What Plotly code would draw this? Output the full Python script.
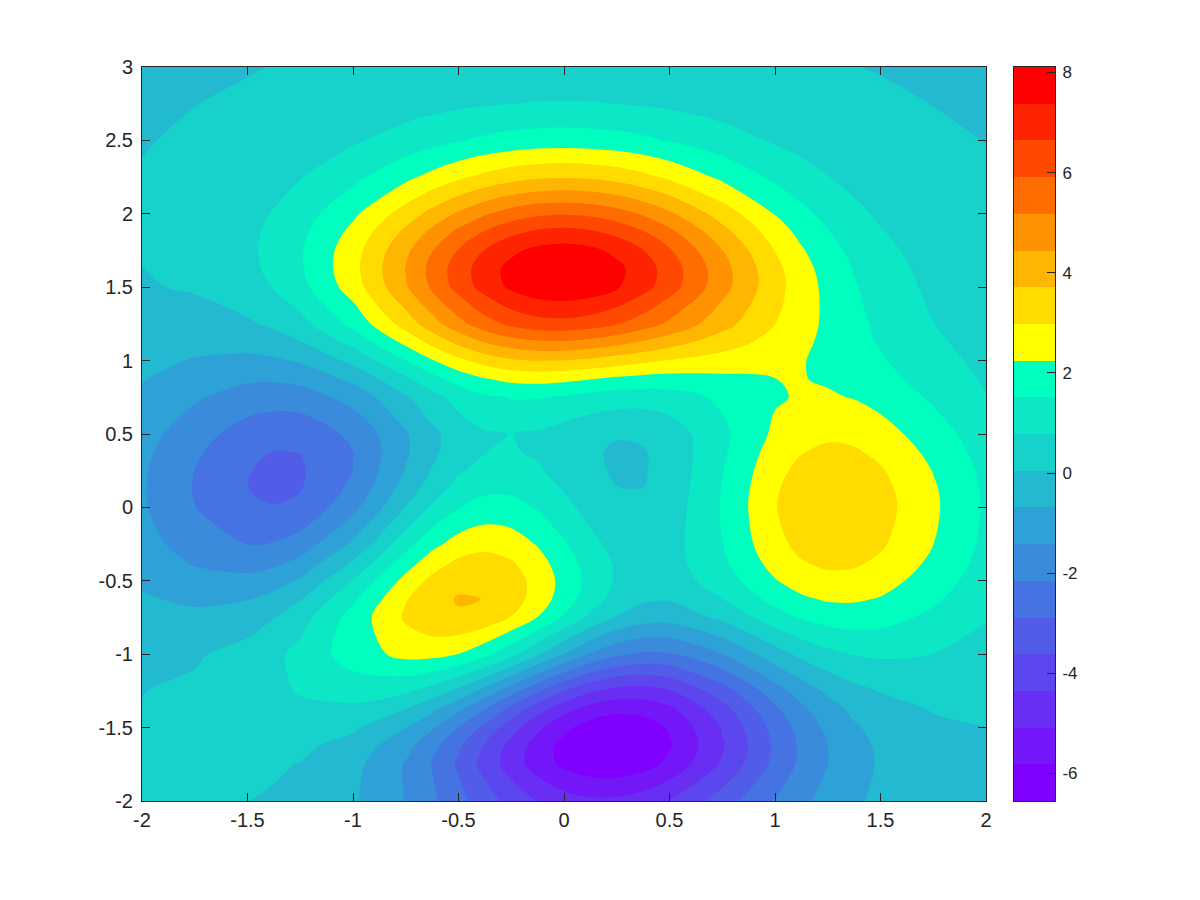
import plotly.graph_objects as go

X_VALUES = [-2, -1.75, -1.5, -1.375, -1.25, -1, -0.75, -0.625, -0.5, -0.375, -0.25, -0.125, 0, 0.125, 0.25, 0.375, 0.5, 0.75, 1, 1.125, 1.25, 1.375, 1.5, 1.75, 2]
Y_VALUES = [3, 2.75, 2.5, 2.25, 2, 1.875, 1.75, 1.625, 1.5, 1.25, 1.125, 1, 0.875, 0.75, 0.5, 0.375, 0.25, 0.125, 0, -0.25, -0.375, -0.5, -0.625, -0.75, -1, -1.25, -1.375, -1.5, -1.625, -1.75, -2]

# values estimated from the filled bands, one row per y value
Z_VALUES = [
    [0.01, 0.01, 0.03, 0.05, 0.06, 0.11, 0.17, 0.20, 0.23, 0.26, 0.28, 0.30, 0.30, 0.30, 0.28, 0.26, 0.23, 0.17, 0.11, 0.08, 0.06, 0.05, 0.03, 0.01, 0.01],
    [0.01, 0.04, 0.08, 0.12, 0.17, 0.30, 0.47, 0.55, 0.64, 0.71, 0.77, 0.81, 0.82, 0.81, 0.77, 0.71, 0.64, 0.47, 0.30, 0.23, 0.17, 0.12, 0.09, 0.04, 0.02],
    [0.03, 0.08, 0.19, 0.28, 0.39, 0.69, 1.07, 1.27, 1.47, 1.64, 1.77, 1.86, 1.88, 1.85, 1.77, 1.64, 1.47, 1.08, 0.70, 0.54, 0.40, 0.29, 0.20, 0.09, 0.04],
    [0.06, 0.16, 0.36, 0.53, 0.74, 1.32, 2.07, 2.46, 2.84, 3.17, 3.43, 3.59, 3.65, 3.59, 3.43, 3.17, 2.84, 2.09, 1.36, 1.05, 0.79, 0.57, 0.40, 0.19, 0.08],
    [0.08, 0.23, 0.55, 0.82, 1.16, 2.10, 3.31, 3.95, 4.56, 5.09, 5.51, 5.77, 5.86, 5.76, 5.50, 5.09, 4.57, 3.37, 2.21, 1.71, 1.30, 0.95, 0.67, 0.32, 0.13],
    [0.08, 0.25, 0.62, 0.93, 1.33, 2.44, 3.87, 4.63, 5.35, 5.98, 6.47, 6.78, 6.88, 6.76, 6.45, 5.97, 5.37, 3.97, 2.62, 2.04, 1.55, 1.14, 0.82, 0.39, 0.17],
    [0.07, 0.24, 0.64, 0.98, 1.43, 2.68, 4.29, 5.15, 5.96, 6.68, 7.22, 7.57, 7.68, 7.55, 7.20, 6.66, 5.99, 4.45, 2.96, 2.32, 1.78, 1.32, 0.96, 0.47, 0.21],
    [0.04, 0.20, 0.60, 0.95, 1.42, 2.74, 4.48, 5.40, 6.27, 7.03, 7.60, 7.96, 8.07, 7.93, 7.56, 7.01, 6.31, 4.72, 3.18, 2.52, 1.95, 1.47, 1.08, 0.55, 0.25],
    [-0.01, 0.11, 0.47, 0.81, 1.27, 2.60, 4.36, 5.29, 6.17, 6.93, 7.51, 7.86, 7.96, 7.82, 7.45, 6.90, 6.23, 4.70, 3.24, 2.60, 2.05, 1.57, 1.18, 0.62, 0.29],
    [-0.20, -0.23, -0.05, 0.19, 0.55, 1.70, 3.30, 4.14, 4.93, 5.59, 6.08, 6.35, 6.40, 6.26, 5.95, 5.53, 5.03, 3.98, 2.98, 2.52, 2.10, 1.71, 1.35, 0.79, 0.41],
    [-0.33, -0.47, -0.43, -0.28, 0.01, 0.99, 2.43, 3.19, 3.89, 4.46, 4.86, 5.06, 5.08, 4.94, 4.68, 4.36, 4.01, 3.33, 2.70, 2.39, 2.08, 1.76, 1.45, 0.90, 0.49],
    [-0.48, -0.74, -0.86, -0.80, -0.60, 0.23, 1.51, 2.19, 2.80, 3.28, 3.59, 3.72, 3.69, 3.55, 3.34, 3.13, 2.94, 2.66, 2.44, 2.28, 2.09, 1.85, 1.58, 1.04, 0.58],
    [-0.65, -1.03, -1.31, -1.33, -1.21, -0.52, 0.65, 1.26, 1.80, 2.20, 2.43, 2.49, 2.42, 2.27, 2.10, 1.99, 1.95, 2.08, 2.24, 2.27, 2.17, 1.99, 1.75, 1.20, 0.69],
    [-0.82, -1.33, -1.76, -1.84, -1.78, -1.16, -0.05, 0.54, 1.04, 1.39, 1.55, 1.55, 1.42, 1.25, 1.12, 1.08, 1.17, 1.65, 2.17, 2.31, 2.32, 2.21, 1.99, 1.40, 0.82],
    [-1.12, -1.85, -2.49, -2.66, -2.64, -2.00, -0.76, -0.13, 0.39, 0.70, 0.79, 0.69, 0.46, 0.23, 0.09, 0.13, 0.38, 1.35, 2.38, 2.70, 2.84, 2.78, 2.55, 1.85, 1.09],
    [-1.24, -2.04, -2.73, -2.91, -2.88, -2.16, -0.79, -0.10, 0.45, 0.77, 0.84, 0.69, 0.41, 0.13, -0.04, 0.00, 0.28, 1.39, 2.58, 2.95, 3.13, 3.07, 2.82, 2.05, 1.22],
    [-1.32, -2.16, -2.86, -3.03, -2.98, -2.15, -0.64, 0.10, 0.69, 1.01, 1.06, 0.86, 0.52, 0.18, -0.03, -0.01, 0.28, 1.47, 2.76, 3.18, 3.37, 3.31, 3.05, 2.22, 1.32],
    [-1.35, -2.20, -2.88, -3.02, -2.93, -1.98, -0.36, 0.43, 1.04, 1.36, 1.37, 1.13, 0.73, 0.32, 0.06, 0.05, 0.32, 1.54, 2.89, 3.33, 3.53, 3.47, 3.20, 2.33, 1.39],
    [-1.33, -2.14, -2.76, -2.86, -2.72, -1.65, 0.07, 0.88, 1.48, 1.78, 1.75, 1.45, 0.98, 0.51, 0.19, 0.13, 0.38, 1.57, 2.94, 3.38, 3.59, 3.53, 3.26, 2.37, 1.41],
    [-1.14, -1.77, -2.16, -2.11, -1.84, -0.56, 1.23, 2.02, 2.56, 2.77, 2.62, 2.19, 1.59, 0.98, 0.53, 0.34, 0.48, 1.50, 2.76, 3.18, 3.38, 3.33, 3.08, 2.25, 1.34],
    [-0.98, -1.49, -1.71, -1.58, -1.23, 0.12, 1.89, 2.64, 3.12, 3.25, 3.04, 2.53, 1.86, 1.19, 0.67, 0.42, 0.48, 1.37, 2.53, 2.93, 3.12, 3.08, 2.85, 2.09, 1.25],
    [-0.80, -1.16, -1.21, -1.01, -0.60, 0.80, 2.49, 3.16, 3.56, 3.60, 3.30, 2.73, 2.00, 1.27, 0.70, 0.39, 0.39, 1.14, 2.20, 2.57, 2.77, 2.75, 2.55, 1.88, 1.12],
    [-0.61, -0.82, -0.72, -0.45, 0.00, 1.38, 2.93, 3.48, 3.76, 3.70, 3.31, 2.66, 1.88, 1.11, 0.50, 0.16, 0.11, 0.76, 1.75, 2.12, 2.32, 2.33, 2.19, 1.63, 0.98],
    [-0.42, -0.51, -0.28, 0.03, 0.49, 1.78, 3.09, 3.50, 3.63, 3.44, 2.94, 2.22, 1.40, 0.61, 0.00, -0.36, -0.41, 0.20, 1.18, 1.56, 1.79, 1.86, 1.77, 1.35, 0.82],
    [-0.13, -0.04, 0.30, 0.60, 0.99, 1.86, 2.46, 2.47, 2.23, 1.72, 0.99, 0.14, -0.73, -1.48, -2.02, -2.27, -2.22, -1.43, -0.27, 0.22, 0.58, 0.80, 0.88, 0.77, 0.50],
    [0.03, 0.17, 0.44, 0.63, 0.83, 1.10, 0.88, 0.47, -0.15, -0.95, -1.86, -2.79, -3.62, -4.26, -4.61, -4.67, -4.41, -3.23, -1.74, -1.09, -0.56, -0.17, 0.08, 0.27, 0.23],
    [0.06, 0.19, 0.41, 0.53, 0.63, 0.61, 0.04, -0.53, -1.28, -2.17, -3.12, -4.05, -4.83, -5.39, -5.65, -5.60, -5.25, -3.90, -2.29, -1.57, -0.98, -0.53, -0.22, 0.08, 0.12],
    [0.08, 0.19, 0.33, 0.39, 0.40, 0.16, -0.66, -1.33, -2.16, -3.09, -4.04, -4.93, -5.65, -6.12, -6.29, -6.16, -5.74, -4.30, -2.63, -1.88, -1.27, -0.78, -0.44, -0.07, 0.04],
    [0.08, 0.16, 0.24, 0.24, 0.19, -0.22, -1.19, -1.92, -2.77, -3.69, -4.60, -5.42, -6.06, -6.45, -6.54, -6.35, -5.89, -4.43, -2.76, -2.03, -1.42, -0.93, -0.57, -0.16, -0.01],
    [0.07, 0.13, 0.15, 0.12, 0.02, -0.46, -1.48, -2.19, -3.01, -3.87, -4.70, -5.43, -5.98, -6.29, -6.33, -6.11, -5.64, -4.25, -2.69, -2.00, -1.42, -0.96, -0.61, -0.20, -0.05],
    [0.05, 0.07, 0.05, -0.02, -0.13, -0.59, -1.45, -2.01, -2.64, -3.28, -3.88, -4.39, -4.76, -4.94, -4.93, -4.72, -4.35, -3.27, -2.10, -1.59, -1.15, -0.80, -0.53, -0.20, -0.06],
]

BAND_COLORS = [
    "#7f00ff", "#7317f9", "#682ef3", "#5c46ee", "#515de8", "#4574e2",
    "#3a8bdc", "#2ea2d6", "#23b9d0", "#17d1cb", "#0ce8c5", "#00ffbf",
    "#ffff00", "#ffdb00", "#ffb600", "#ff9200", "#ff6d00", "#ff4900", "#ff2400", "#ff0000",
]
BAND_EDGES = [
    -6.55, -5.82, -5.08, -4.35, -3.62, -2.89, -2.15, -1.42, -0.69, 0.05, 0.78,
    1.51, 2.25, 2.98, 3.71, 4.44, 5.18, 5.91, 6.64, 7.38, 8.11,
]
BAND_INDEX = [[i] for i in range(len(BAND_COLORS))]
LEVEL_STEP = 0.733

X_TICKS = [-2, -1.5, -1, -0.5, 0, 0.5, 1, 1.5, 2]
X_LABELS = ["-2", "-1.5", "-1", "-0.5", "0", "0.5", "1", "1.5", "2"]
Y_TICKS = [-2, -1.5, -1, -0.5, 0, 0.5, 1, 1.5, 2, 2.5, 3]
Y_LABELS = ["-2", "-1.5", "-1", "-0.5", "0", "0.5", "1", "1.5", "2", "2.5", "3"]
BAR_TICKS = [-6, -4, -2, 0, 2, 4, 6, 8]
BAR_LABELS = ["-6", "-4", "-2", "0", "2", "4", "6", "8"]

AXIS_COLOR = "#262626"
AXIS_FONT = dict(family="Liberation Sans, Arial", size=20, color=AXIS_COLOR)
BAR_FONT = dict(family="Liberation Sans, Arial", size=17, color=AXIS_COLOR)

colorscale = [[i / (len(BAND_COLORS) - 1), c] for i, c in enumerate(BAND_COLORS)]

fig = go.Figure()
fig.add_trace(
    go.Contour(
        x=X_VALUES,
        y=Y_VALUES,
        z=Z_VALUES,
        colorscale=colorscale,
        autocontour=False,
        contours=dict(start=BAND_EDGES[1], end=BAND_EDGES[-2], size=LEVEL_STEP, coloring="fill", showlines=False),
        line=dict(width=0, smoothing=1.0),
        showscale=False,
    )
)

# colour bar drawn as its own small axes so the end bands keep their full height
fig.add_trace(
    go.Heatmap(
        x=[0, 1],
        y=BAND_EDGES,
        z=BAND_INDEX,
        zmin=0,
        zmax=len(BAND_COLORS) - 1,
        colorscale=colorscale,
        showscale=False,
        xaxis="x2",
        yaxis="y2",
    )
)

axis_style = dict(
    showgrid=False,
    zeroline=False,
    showline=True,
    linecolor=AXIS_COLOR,
    linewidth=1,
    ticklen=8,
    tickcolor=AXIS_COLOR,
)

fig.update_layout(
    width=1200,
    height=900,
    margin=dict(l=134, r=153, t=59, b=107),
    paper_bgcolor="white",
    plot_bgcolor="white",
    xaxis=dict(domain=[0, 844 / 913], range=[-2, 2], tickvals=X_TICKS, ticktext=X_LABELS, ticks="inside", mirror="allticks", tickfont=AXIS_FONT, ticklabelstandoff=1, **axis_style),
    yaxis=dict(range=[-2, 3], tickvals=Y_TICKS, ticktext=Y_LABELS, ticks="inside", mirror="allticks", tickfont=AXIS_FONT, ticklabelstandoff=4, **axis_style),
    xaxis2=dict(domain=[872 / 913, 1], range=[0, 1], anchor="y2", showticklabels=False, ticks="", mirror=True, **axis_style),
    yaxis2=dict(range=[BAND_EDGES[0], BAND_EDGES[-1]], anchor="x2", side="right", tickvals=BAR_TICKS, ticktext=BAR_LABELS, ticks="inside", mirror=True, tickfont=BAR_FONT, ticklabelstandoff=3, **axis_style),
)

fig.write_html("out.html")
